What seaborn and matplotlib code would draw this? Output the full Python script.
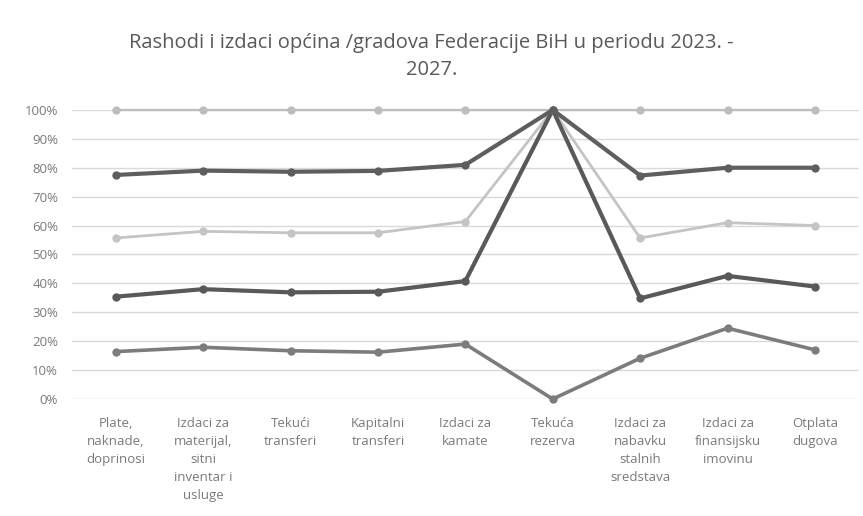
import pandas as pd
import seaborn as sns
import matplotlib.pyplot as plt
from matplotlib.ticker import PercentFormatter

# Kategorije rashoda (x os)
kategorije = [
    "Plate,\nnaknade,\ndoprinosi",
    "Izdaci za\nmaterijal,\nsitni\ninventar i\nusluge",
    "Tekući\ntransferi",
    "Kapitalni\ntransferi",
    "Izdaci za\nkamate",
    "Tekuća\nrezerva",
    "Izdaci za\nnabavku\nstalnih\nsredstava",
    "Izdaci za\nfinansijsku\nimovinu",
    "Otplata\ndugova",
]

# kumulativni udjeli (100% naslagane linije), očitano sa slike
s2023 = [0.164, 0.179, 0.167, 0.162, 0.190, 0.000, 0.141, 0.245, 0.170]
s2024 = [0.354, 0.380, 0.369, 0.371, 0.408, 1.000, 0.348, 0.426, 0.389]
s2025 = [0.557, 0.580, 0.575, 0.575, 0.614, 1.000, 0.557, 0.610, 0.600]
s2026 = [0.775, 0.790, 0.786, 0.789, 0.810, 1.000, 0.773, 0.800, 0.800]
s2027 = [1.000, 1.000, 1.000, 1.000, 1.000, 1.000, 1.000, 1.000, 1.000]

serije = {"2023": s2023, "2024": s2024, "2025": s2025, "2026": s2026, "2027": s2027}
boje = {"2023": "#7c7c7c", "2024": "#595959", "2025": "#c4c4c4", "2026": "#5e5e5e", "2027": "#bdbdbd"}
debljine = {"2023": 2.6, "2024": 3.0, "2025": 2.0, "2026": 3.0, "2027": 1.6}

rows = []
for god, vals in serije.items():
    for k, v in zip(kategorije, vals):
        rows.append({"kategorija": k, "udio": v, "godina": god})
df = pd.DataFrame(rows)

sns.set_style("white")
plt.rcParams["font.family"] = ["Open Sans", "DejaVu Sans"]

fig = plt.figure(figsize=(8.63, 5.16), dpi=100)
ax = fig.add_axes([0.0834, 0.2267, 0.9116, 0.5603])

for god in ["2027", "2025", "2023", "2024", "2026"]:
    sub = df[df["godina"] == god]
    sns.lineplot(data=sub, x="kategorija", y="udio", color=boje[god],
                 linewidth=debljine[god], marker="o", markersize=6,
                 markeredgewidth=0, sort=False, ax=ax, legend=False,
                 clip_on=False)

ax.set_xlim(-0.5, 8.5)
ax.set_ylim(0, 1)
ax.set_yticks([i / 10 for i in range(11)])
ax.yaxis.set_major_formatter(PercentFormatter(1.0, decimals=0))
ax.grid(axis="y", color="#d9d9d9", linewidth=1)
ax.set_axisbelow(True)
for s in ax.spines.values():
    s.set_visible(False)
ax.set_xlabel("")
ax.set_ylabel("")
ax.tick_params(axis="x", length=0, pad=13, labelsize=9.5, labelcolor="#7a7a7a")
ax.tick_params(axis="y", length=0, pad=10, labelsize=9.5, labelcolor="#7a7a7a")
for lbl in ax.get_xticklabels():
    lbl.set_horizontalalignment("center")
    lbl.set_linespacing(1.5)

fig.text(0.5, 0.891, "Rashodi i izdaci općina /gradova Federacije BiH u periodu 2023. -\n2027.",
         ha="center", va="center", fontsize=14.5, color="#595959", linespacing=1.45)

fig.savefig("out.png", dpi=100)
